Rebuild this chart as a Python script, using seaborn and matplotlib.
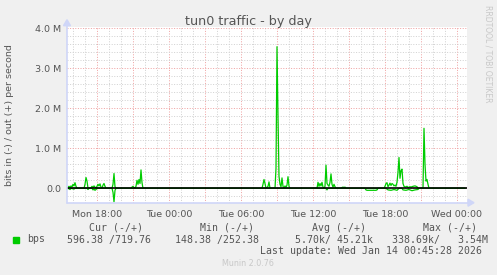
import matplotlib
matplotlib.use("Agg")
import matplotlib.pyplot as plt
import matplotlib.dates as mdates
from matplotlib.patches import Rectangle
import seaborn as sns
import pandas as pd

# ---------------- data (values in Mbit/s) ----------------
out_times = [
    "2026-01-12 15:35", "2026-01-12 15:40", "2026-01-12 15:45", "2026-01-12 15:50",
    "2026-01-12 15:55", "2026-01-12 16:00", "2026-01-12 16:05", "2026-01-12 16:10",
    "2026-01-12 16:15", "2026-01-12 16:20", "2026-01-12 16:55", "2026-01-12 17:00",
    "2026-01-12 17:05", "2026-01-12 17:10", "2026-01-12 17:15", "2026-01-12 17:30",
    "2026-01-12 17:35", "2026-01-12 17:40", "2026-01-12 17:45", "2026-01-12 17:50",
    "2026-01-12 17:55", "2026-01-12 18:00", "2026-01-12 18:05", "2026-01-12 18:10",
    "2026-01-12 18:15", "2026-01-12 18:20", "2026-01-12 18:25", "2026-01-12 18:30",
    "2026-01-12 18:35", "2026-01-12 18:40", "2026-01-12 18:45", "2026-01-12 19:15",
    "2026-01-12 19:20", "2026-01-12 19:25", "2026-01-12 19:30", "2026-01-12 19:35",
    "2026-01-12 20:50", "2026-01-12 20:55", "2026-01-12 21:00", "2026-01-12 21:05",
    "2026-01-12 21:10", "2026-01-12 21:15", "2026-01-12 21:20", "2026-01-12 21:25",
    "2026-01-12 21:30", "2026-01-12 21:35", "2026-01-12 21:40", "2026-01-12 21:45",
    "2026-01-12 21:50",
    "2026-01-13 07:45", "2026-01-13 07:50", "2026-01-13 07:55", "2026-01-13 08:00",
    "2026-01-13 08:05", "2026-01-13 08:10", "2026-01-13 08:15", "2026-01-13 08:20",
    "2026-01-13 08:25", "2026-01-13 08:50", "2026-01-13 08:55", "2026-01-13 09:00",
    "2026-01-13 09:05", "2026-01-13 09:10", "2026-01-13 09:15", "2026-01-13 09:20",
    "2026-01-13 09:25", "2026-01-13 09:30", "2026-01-13 09:35", "2026-01-13 09:40",
    "2026-01-13 09:45", "2026-01-13 09:50", "2026-01-13 09:55", "2026-01-13 10:00",
    "2026-01-13 10:05", "2026-01-13 12:20", "2026-01-13 12:25", "2026-01-13 12:30",
    "2026-01-13 12:35", "2026-01-13 12:40", "2026-01-13 12:45", "2026-01-13 12:50",
    "2026-01-13 12:55", "2026-01-13 13:00", "2026-01-13 13:05", "2026-01-13 13:10",
    "2026-01-13 13:15", "2026-01-13 13:20", "2026-01-13 13:25", "2026-01-13 13:30",
    "2026-01-13 13:35", "2026-01-13 13:40", "2026-01-13 13:45", "2026-01-13 13:50",
    "2026-01-13 13:55", "2026-01-13 14:20", "2026-01-13 14:25", "2026-01-13 14:30",
    "2026-01-13 14:35", "2026-01-13 14:40", "2026-01-13 14:45", "2026-01-13 17:55",
    "2026-01-13 18:00", "2026-01-13 18:05", "2026-01-13 18:10", "2026-01-13 18:15",
    "2026-01-13 18:20", "2026-01-13 18:25", "2026-01-13 18:30", "2026-01-13 18:35",
    "2026-01-13 18:40", "2026-01-13 18:45", "2026-01-13 18:50", "2026-01-13 18:55",
    "2026-01-13 19:00", "2026-01-13 19:05", "2026-01-13 19:10", "2026-01-13 19:15",
    "2026-01-13 19:20", "2026-01-13 19:25", "2026-01-13 19:30", "2026-01-13 19:35",
    "2026-01-13 19:40", "2026-01-13 19:50", "2026-01-13 19:55", "2026-01-13 20:05",
    "2026-01-13 20:10", "2026-01-13 20:20", "2026-01-13 20:30", "2026-01-13 20:40",
    "2026-01-13 20:45", "2026-01-13 21:10", "2026-01-13 21:15", "2026-01-13 21:20",
    "2026-01-13 21:25", "2026-01-13 21:30", "2026-01-13 21:35", "2026-01-13 21:40",
    "2026-01-14 00:40",
]
out_vals = [
    0.02, 0.05, 0.02, 0.06,
    0.03, 0.10, 0.06, 0.14,
    0.05, 0.00, 0.00, 0.10,
    0.27, 0.18, 0.00, 0.01,
    0.05, 0.02, 0.06, 0.03,
    0.00, 0.05, 0.10, 0.06,
    0.11, 0.03, 0.00, 0.08,
    0.12, 0.05, 0.00, 0.00,
    0.10, 0.37, 0.04, 0.00,
    0.00, 0.03, 0.05, 0.02,
    0.00, 0.05, 0.20, 0.10,
    0.22, 0.12, 0.46, 0.14,
    0.00,
    0.00, 0.10, 0.22, 0.12,
    0.00, 0.02, 0.05, 0.16,
    0.00, 0.00, 0.50, 3.54,
    1.80, 0.30, 0.10, 0.04,
    0.26, 0.05, 0.00, 0.06,
    0.02, 0.08, 0.29, 0.05,
    0.00, 0.00, 0.15, 0.05,
    0.12, 0.06, 0.15, 0.03,
    0.00, 0.05, 0.58, 0.12,
    0.08, 0.05, 0.15, 0.36,
    0.10, 0.03, 0.10, 0.04,
    0.00, 0.00, 0.02, 0.03,
    0.02, 0.03, 0.00, 0.00,
    0.05, 0.12, 0.14, 0.04,
    0.08, 0.13, 0.07, 0.12,
    0.10, 0.06, 0.08, 0.05,
    0.15, 0.40, 0.77, 0.25,
    0.44, 0.48, 0.12, 0.05,
    0.03, 0.05, 0.02, 0.04,
    0.03, 0.05, 0.06, 0.04,
    0.00, 0.00, 1.50, 0.60,
    0.18, 0.22, 0.10, 0.00,
    0.00,
]

in_times = [
    "2026-01-12 15:35", "2026-01-12 15:45", "2026-01-12 15:50", "2026-01-12 16:05",
    "2026-01-12 16:10", "2026-01-12 17:10", "2026-01-12 17:15", "2026-01-12 17:20",
    "2026-01-12 17:35", "2026-01-12 17:40", "2026-01-12 17:45", "2026-01-12 17:50",
    "2026-01-12 17:55", "2026-01-12 18:00", "2026-01-12 19:15", "2026-01-12 19:20",
    "2026-01-12 19:25", "2026-01-12 19:30", "2026-01-12 19:35",
    "2026-01-13 13:05", "2026-01-13 13:10", "2026-01-13 13:15", "2026-01-13 16:20",
    "2026-01-13 16:25", "2026-01-13 16:30", "2026-01-13 17:15", "2026-01-13 17:20",
    "2026-01-13 17:25", "2026-01-13 18:05", "2026-01-13 18:15", "2026-01-13 18:30",
    "2026-01-13 18:45", "2026-01-13 19:00", "2026-01-13 19:10", "2026-01-13 19:25",
    "2026-01-13 19:30", "2026-01-13 19:45", "2026-01-13 20:00", "2026-01-13 20:15",
    "2026-01-13 20:30", "2026-01-13 20:45", "2026-01-13 20:50",
    "2026-01-14 00:40",
]
in_vals = [
    0.00, 0.03, 0.00, 0.02,
    0.00, 0.00, 0.03, 0.00,
    0.00, 0.04, 0.02, 0.05,
    0.03, 0.00, 0.00, 0.10,
    0.34, 0.05, 0.00,
    0.00, 0.04, 0.00, 0.00,
    0.04, 0.05, 0.05, 0.04,
    0.00, 0.00, 0.04, 0.05,
    0.03, 0.05, 0.00, 0.00,
    0.04, 0.05, 0.03, 0.06,
    0.04, 0.03, 0.00,
    0.00,
]

y_ticks = [0, 1, 2, 3, 4]
y_tick_labels = ["0.0", "1.0 M", "2.0 M", "3.0 M", "4.0 M"]

legend_headers = ["Cur (-/+)", "Min (-/+)", "Avg (-/+)", "Max (-/+)"]
legend_values = ["596.38 /719.76", "148.38 /252.38", "5.70k/ 45.21k", "338.69k/   3.54M"]
series_name = "bps"
last_update = "Last update: Wed Jan 14 00:45:28 2026"
title = "tun0 traffic - by day"
y_label = "bits in (-) / out (+) per second"

# ---------------- styling ----------------
sns.set_theme(style="white")
plt.rcParams['font.family'] = ['DejaVu Sans']

W, H = 497, 275
GREEN = "#00CC00"
FONT = "#555555"
AXIS = "#CFD6F8"

fig = plt.figure(figsize=(W / 100, H / 100), dpi=100, facecolor="#F0F0F0")
L, R, T, B = 67, 467, 26.7, 202.7
ax = fig.add_axes([L / W, 1 - B / H, (R - L) / W, (B - T) / H])
ax.set_facecolor("white")

def fx(x):
    return x / W

def fy(y):
    return 1 - y / H

df_out = pd.DataFrame({"time": pd.to_datetime(out_times), "bps": out_vals})
df_in = pd.DataFrame({"time": pd.to_datetime(in_times), "bps": [-v for v in in_vals]})

t0 = pd.Timestamp("2026-01-12 15:30")
t1 = pd.Timestamp("2026-01-14 00:50")

# grid
ax.set_xlim(t0, t1)
ax.set_ylim(-0.36, 4.04)
ax.xaxis.set_major_locator(mdates.HourLocator(byhour=range(0, 24, 3)))
ax.xaxis.set_minor_locator(mdates.HourLocator())

def xfmt(v, pos):
    d = mdates.num2date(v)
    return d.strftime("%a %H:%M") if d.hour % 6 == 0 else ""

ax.xaxis.set_major_formatter(plt.FuncFormatter(xfmt))
ax.set_yticks(y_ticks)
ax.set_yticklabels(y_tick_labels)
ax.yaxis.set_minor_locator(plt.MultipleLocator(0.2))

ax.grid(which="minor", color="#d2d2d2", linestyle=(0, (1, 1.6)), linewidth=0.72)
ax.grid(which="major", color="#f0a4a4", linestyle=(0, (1, 1.6)), linewidth=0.72)
ax.set_axisbelow(True)
ax.tick_params(which="both", length=0, labelsize=6.8, labelcolor=FONT, pad=4)
ax.tick_params(axis="x", pad=5)

for s in ax.spines.values():
    s.set_visible(False)

# data lines
sns.lineplot(data=df_out, x="time", y="bps", ax=ax, color=GREEN, linewidth=0.9, estimator=None)
sns.lineplot(data=df_in, x="time", y="bps", ax=ax, color=GREEN, linewidth=0.9, estimator=None)
ax.axhline(0, color="black", linewidth=1.2, zorder=3)
ax.set_xlabel("")
ax.set_ylabel("")

# axes arrows (pixel coords in figure)
fig.add_artist(plt.Line2D([fx(L), fx(R + 3)], [fy(B), fy(B)], color=AXIS, lw=1.2))
fig.add_artist(plt.Line2D([fx(L), fx(L)], [fy(B), fy(T - 2)], color=AXIS, lw=1.2))
fig.add_artist(plt.Polygon([[fx(R + 1), fy(B - 3.5)], [fx(R + 1), fy(B + 3.5)], [fx(R + 7), fy(B)]],
                           closed=True, color=AXIS))
fig.add_artist(plt.Polygon([[fx(L - 3.5), fy(T - 1)], [fx(L + 3.5), fy(T - 1)], [fx(L), fy(T - 7)]],
                           closed=True, color=AXIS))

# texts
fig.text(fx(248.5), fy(24.5), title, ha="center", va="baseline", fontsize=9.2, color=FONT)
fig.text(fx(10), fy(114.7), y_label, rotation=90, ha="center", va="center", fontsize=6.8, color=FONT)
fig.text(fx(488), fy(5), "RRDTOOL / TOBI OETIKER", rotation=270, ha="center", va="top",
         fontsize=5.5, color="#c8c8c8")

mono = "DejaVu Sans Mono"
fs = 7.15
header_x = [89.3, 200, 312.3, 422.7]
value_x = [66.7, 175, 295, 391.7]
for hx, h in zip(header_x, legend_headers):
    fig.text(fx(hx), fy(227.7), h, ha="left", va="center", family=mono, fontsize=fs, color=FONT)
for vx, v in zip(value_x, legend_values):
    fig.text(fx(vx), fy(239.5), v, ha="left", va="center", family=mono, fontsize=fs, color=FONT)
fig.add_artist(Rectangle((fx(13), fy(243)), 6 / W, 6 / H, color=GREEN, transform=fig.transFigure))
fig.text(fx(27), fy(239.5), series_name, ha="left", va="center", family=mono, fontsize=fs, color=FONT)
fig.text(fx(482), fy(251), last_update, ha="right", va="center", family=mono, fontsize=fs, color=FONT)
fig.text(fx(248), fy(264), "Munin 2.0.76", ha="center", va="center", fontsize=5.8, color="#c8c8c8")

fig.savefig("out.png", dpi=100, facecolor=fig.get_facecolor())
